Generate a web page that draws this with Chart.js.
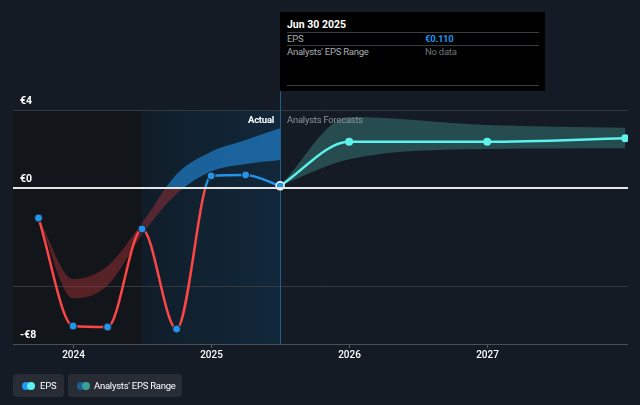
<!DOCTYPE html>
<html>
<head>
<meta charset="utf-8">
<script src="https://cdn.jsdelivr.net/npm/chart.js@4.4.1/dist/chart.umd.min.js"></script>
<style>
  html, body { margin: 0; padding: 0; background: #151b24; }
  body { width: 640px; height: 405px; overflow: hidden; font-family: Roboto, "Open Sans", sans-serif; }
  #wrap { position: relative; width: 640px; height: 405px; }
  canvas { position: absolute; left: 0; top: 0; }
  .tip { position: absolute; left: 280px; top: 12px; width: 265px; height: 79px; background: #000; color: #fff; font-size: 9.5px; letter-spacing: -0.25px; }
  .tip .title { position: absolute; left: 7px; top: 6px; font-weight: bold; font-size: 10.5px; letter-spacing: 0; }
  .tip .sep { position: absolute; left: 7px; width: 252px; height: 1px; background: #3a3d42; }
  .tip .k { position: absolute; left: 7px; color: #a9adb3; }
  .tip .v { position: absolute; left: 145px; }
  .lbl { position: absolute; top: 114px; font-size: 9.5px; letter-spacing: -0.25px; white-space: nowrap; }
  .legend { position: absolute; top: 374px; height: 23px; background: #272c35; border-radius: 4px; color: #fff; font-size: 9.5px; letter-spacing: -0.25px; line-height: 23px; white-space: nowrap; }
  .dot { position: absolute; top: 8px; width: 8px; height: 8px; border-radius: 50%; }
</style>
</head>
<body>
<div id="wrap">
  <canvas id="epsChart" width="640" height="405"></canvas>
  <div class="lbl" style="right: 366px; color: #fff; font-weight: bold;">Actual</div>
  <div class="lbl" style="left: 287px; color: #8d939b;">Analysts Forecasts</div>
  <div class="tip">
    <div class="title">Jun 30 2025</div>
    <div class="sep" style="top: 20px;"></div>
    <div class="k" style="top: 21px;">EPS</div>
    <div class="v" style="top: 21px; color: #2196f3; font-weight: bold;">€0.110</div>
    <div class="sep" style="top: 33px;"></div>
    <div class="k" style="top: 34px;">Analysts' EPS Range</div>
    <div class="v" style="top: 34px; color: #6d7278;">No data</div>
    <div class="sep" style="top: 73px;"></div>
  </div>
  <div class="legend" style="left: 13px; width: 51px;">
    <span class="dot" style="left: 9px; background: #2196f3;"></span>
    <span class="dot" style="left: 14px; background: #5ef2ec;"></span>
    <span style="position: absolute; left: 27px;">EPS</span>
  </div>
  <div class="legend" style="left: 68px; width: 114px;">
    <span class="dot" style="left: 9px; background: #1d5f8f;"></span>
    <span class="dot" style="left: 14px; background: #3a9f95;"></span>
    <span style="position: absolute; left: 26px;">Analysts' EPS Range</span>
  </div>
</div>
<script>
// period ends as decimal years
const actualDates = [2023.75, 2024.0, 2024.25, 2024.5, 2024.75, 2025.0, 2025.25, 2025.5];
const actualEps = [-1.54, -7.08, -7.13, -2.1, -7.23, 0.62, 0.67, 0.11];
const pastRangeHigh = [-1.54, -4.67, -4.0, -1.8, 0.7, 1.86, 2.46, 3.06];
const pastRangeLow = [-1.54, -5.66, -5.0, -2.4, -0.3, 0.85, 1.23, 1.44];

const forecastDates = [2025.5, 2026.0, 2027.0, 2028.0];
const forecastEps = [0.11, 2.37, 2.37, 2.55];
const forecastHigh = [0.11, 3.64, 3.23, 3.09];
const forecastLow = [0.11, 1.47, 2.0, 2.04];

const xTicks = [2024, 2025, 2026, 2027];
const xTickLabels = ['2024', '2025', '2026', '2027'];
const yTicks = [4, 0, -8];
const yTickLabels = ['€4', '€0', '-€8'];
const yGridExtra = [-5];

const pastStart = 2024.5;   // start of blue "last year" band
const actualEnd = 2025.5;   // today marker

const pts = (xs, ys) => xs.map((x, i) => ({ x: x, y: ys[i] }));

// gradient split at zero: above colour / below colour
function splitAtZero(chart, above, below) {
    const { ctx, chartArea, scales } = chart;
    if (!chartArea) return below;
    const z = scales.y.getPixelForValue(0);
    const f = Math.min(1, Math.max(0, (z - chartArea.top) / (chartArea.bottom - chartArea.top)));
    const g = ctx.createLinearGradient(0, chartArea.top, 0, chartArea.bottom);
    g.addColorStop(0, above);
    g.addColorStop(f, above);
    g.addColorStop(f, below);
    g.addColorStop(1, below);
    return g;
}

const backdrop = {
    id: 'backdrop',
    beforeDatasetsDraw(chart) {
        const { ctx, chartArea: a, scales: { x, y } } = chart;
        const xp = x.getPixelForValue(pastStart);
        const xa = x.getPixelForValue(actualEnd);
        ctx.save();
        ctx.fillStyle = '#121519';
        ctx.fillRect(a.left, a.top, xp - a.left, a.bottom - a.top);
        const g = ctx.createLinearGradient(xp, 0, xa, 0);
        g.addColorStop(0, '#101d29');
        g.addColorStop(1, '#12283b');
        ctx.fillStyle = g;
        ctx.fillRect(xp, a.top, xa - xp, a.bottom - a.top);

        // grid lines
        ctx.strokeStyle = '#333941';
        ctx.lineWidth = 1;
        yTicks.concat(yGridExtra).forEach(v => {
            if (v === 0) return;
            const py = Math.round(y.getPixelForValue(v)) + 0.5;
            ctx.beginPath(); ctx.moveTo(a.left, py); ctx.lineTo(a.right, py); ctx.stroke();
        });

        // today marker
        ctx.strokeStyle = '#1f5f8f';
        ctx.beginPath(); ctx.moveTo(Math.round(xa) + 0.5, 91); ctx.lineTo(Math.round(xa) + 0.5, a.bottom); ctx.stroke();

        // x ticks + labels
        ctx.fillStyle = '#fff';
        ctx.font = '500 10px Roboto';
        ctx.textAlign = 'center';
        ctx.textBaseline = 'middle';
        ctx.strokeStyle = '#555b63';
        xTicks.forEach((v, i) => {
            const px = Math.round(x.getPixelForValue(v)) + 0.5;
            ctx.beginPath(); ctx.moveTo(px, a.bottom); ctx.lineTo(px, a.bottom + 4); ctx.stroke();
            ctx.fillText(xTickLabels[i], px, a.bottom + 11);
        });

        // y labels sit above their lines
        ctx.textAlign = 'left';
        ctx.font = 'bold 10.5px Roboto';
        yTicks.forEach((v, i) => {
            ctx.fillText(yTickLabels[i], 20, y.getPixelForValue(v) - 9);
        });
        ctx.restore();
    },
    afterDatasetsDraw(chart) {
        const { ctx, chartArea: a, scales: { y } } = chart;
        ctx.save();
        // zero line and bottom axis
        ctx.strokeStyle = '#e6e6e6';
        ctx.lineWidth = 2;
        const z = Math.round(y.getPixelForValue(0));
        ctx.beginPath(); ctx.moveTo(a.left, z); ctx.lineTo(a.right, z); ctx.stroke();
        ctx.strokeStyle = '#4a5058';
        ctx.lineWidth = 1;
        ctx.beginPath(); ctx.moveTo(a.left, a.bottom + 0.5); ctx.lineTo(a.right, a.bottom + 0.5); ctx.stroke();
        ctx.restore();
    }
};

new Chart(document.getElementById('epsChart'), {
    type: 'line',
    data: {
        datasets: [
            {
                data: pts(actualDates, actualEps),
                order: 0,
                borderWidth: 2.5,
                borderColor: c => splitAtZero(c.chart, '#2394ea', '#fc4646'),
                cubicInterpolationMode: 'monotone',
                pointRadius: 4,
                pointBackgroundColor: '#2394ea',
                pointBorderColor: c => c.dataIndex === actualDates.length - 1 ? '#ffffff' : '#1a1f27',
                pointBorderWidth: c => c.dataIndex === actualDates.length - 1 ? 1.5 : 1,
                fill: false
            },
            {
                data: pts(forecastDates, forecastEps),
                order: 0,
                borderWidth: 2.5,
                borderColor: '#5ef2ec',
                cubicInterpolationMode: 'monotone',
                pointRadius: [0, 4, 4, 4],
                pointBackgroundColor: '#5ef2ec',
                pointBorderWidth: 0,
                fill: false
            },
            {
                data: pts(actualDates, pastRangeHigh),
                order: 2,
                borderWidth: 0,
                pointRadius: 0,
                cubicInterpolationMode: 'monotone',
                fill: false
            },
            {
                data: pts(actualDates, pastRangeLow),
                order: 2,
                borderWidth: 0,
                pointRadius: 0,
                cubicInterpolationMode: 'monotone',
                fill: '-1',
                backgroundColor: c => splitAtZero(c.chart, 'rgba(33,140,225,0.6)', 'rgba(170,50,55,0.45)')
            },
            {
                data: pts(forecastDates, forecastHigh),
                order: 2,
                borderWidth: 0,
                pointRadius: 0,
                cubicInterpolationMode: 'monotone',
                fill: false
            },
            {
                data: pts(forecastDates, forecastLow),
                order: 2,
                borderWidth: 0,
                pointRadius: 0,
                cubicInterpolationMode: 'monotone',
                fill: '-1',
                backgroundColor: 'rgba(75,170,160,0.35)'
            }
        ]
    },
    options: {
        responsive: false,
        animation: false,
        layout: { padding: { left: 13, right: 12, top: 110, bottom: 61 } },
        plugins: { legend: { display: false }, tooltip: { enabled: false } },
        scales: {
            x: { type: 'linear', display: false, min: 2023.565, max: 2028.02 },
            y: { type: 'linear', display: false, min: -8, max: 4 }
        }
    },
    plugins: [backdrop]
});
</script>
</body>
</html>
